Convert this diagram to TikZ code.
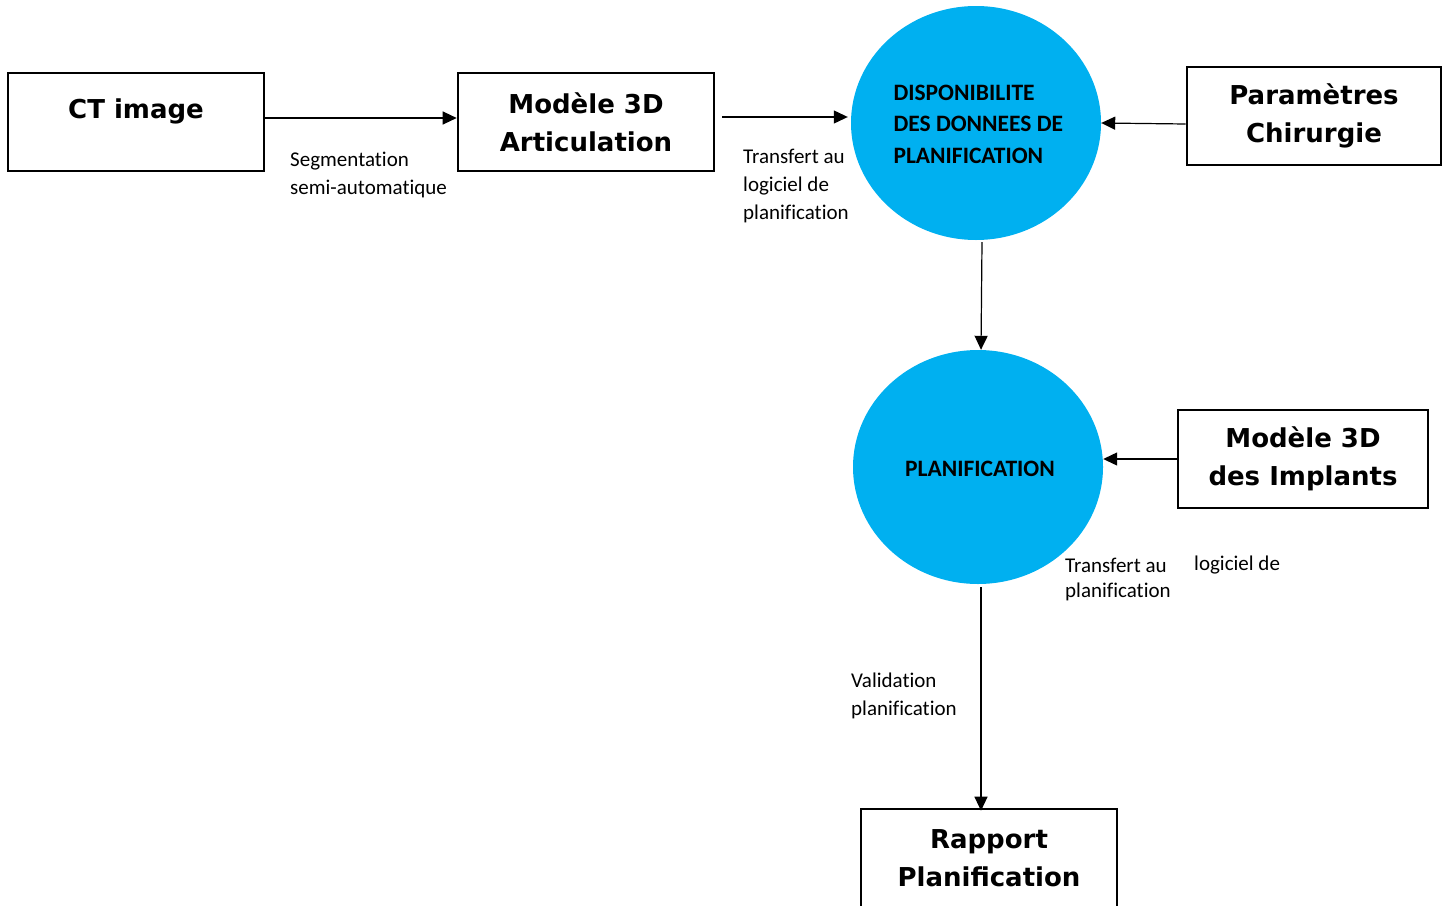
\documentclass[tikz,border=0pt]{standalone}
\usepackage{fontspec}
\setmainfont{Carlito}[Ligatures=NoCommon]
\newfontfamily\titlefont{DejaVu Sans}
\usetikzlibrary{shapes.geometric,arrows.meta}
\definecolor{procblue}{HTML}{00B0F0}
\begin{document}
\begin{tikzpicture}[x=1pt,y=-1pt,
  titlefnt/.style={font=\titlefont\bfseries\fontsize{26}{38}\selectfont},
  box/.style={draw=black,line width=2.6pt,inner sep=0pt,minimum width=#1,minimum height=98pt,
    align=center,titlefnt},
  box/.default=256pt,
  proc/.style={ellipse,fill=procblue,inner sep=0pt,minimum width=250pt,minimum height=234pt},
  proctext/.style={font=\bfseries\fontsize{23.5}{31.5}\selectfont,text=black,align=left},
  lbl/.style={anchor=west,inner sep=0pt,align=left,font=\fontsize{21}{28}\selectfont},
  arr/.style={line width=1.2pt,-{Triangle[length=14pt,width=13pt]}}]
\clip (0,0) rectangle (1443,905);
\useasboundingbox (0,0) rectangle (1443,905);

% boxes
\node[box] (ct) at (136,122) {};
\node[titlefnt] (cttext) at (136,111) {CT image};
\node[box] (art) at (586,122) {Modèle 3D\\Articulation};
\node[box=254pt] (param) at (1314,116) {Paramètres\\Chirurgie};
\node[box=250pt] (impl) at (1303,459) {Modèle 3D\\des Implants};
\node[box] (rap) at (989,858) {Rapport\\Planification};

% processes
\node[proc] (dispo) at (976,123) {};
\node[proctext,anchor=west] (dispotext) at (890,124) {DISPONIBILITE\\DES DONNEES DE\\PLANIFICATION};
\node[proc] (plan) at (978,467) {};
\node[proctext] (plantext) at (980,469) {PLANIFICATION};

% connectors
\draw[arr] ([yshift=4pt]ct.east) -- ([yshift=4pt]art.west);
\draw[arr] ([xshift=7pt,yshift=5pt]art.east) -- ([xshift=-3pt,yshift=6pt]dispo.west);
\draw[arr] ([yshift=-8pt]param.west) -- (dispo.east);
\draw[arr] ([xshift=6pt,yshift=-2pt]dispo.south) -- ([xshift=3pt]plan.north);
\draw[arr] (impl.west) -- ([yshift=8pt]plan.east);
\draw[arr] ([xshift=3pt,yshift=-3pt]plan.south) -- ([xshift=3pt,yshift=-3pt]plan.south |- rap.north);

% connector labels
\node[lbl] (l1) at (290,175) {Segmentation\\semi-automatique};
\node[lbl] (l2) at (743,186) {Transfert au\\logiciel de\\planification};
\node[lbl] (l3) at (1065,565) {Transfert au};
\node[lbl] (l3b) at (1194,565) {logiciel de};
\node[lbl] (l3c) at (1065,592) {planification};
\node[lbl] (l4) at (851,696) {Validation\\planification};
\end{tikzpicture}
\end{document}
